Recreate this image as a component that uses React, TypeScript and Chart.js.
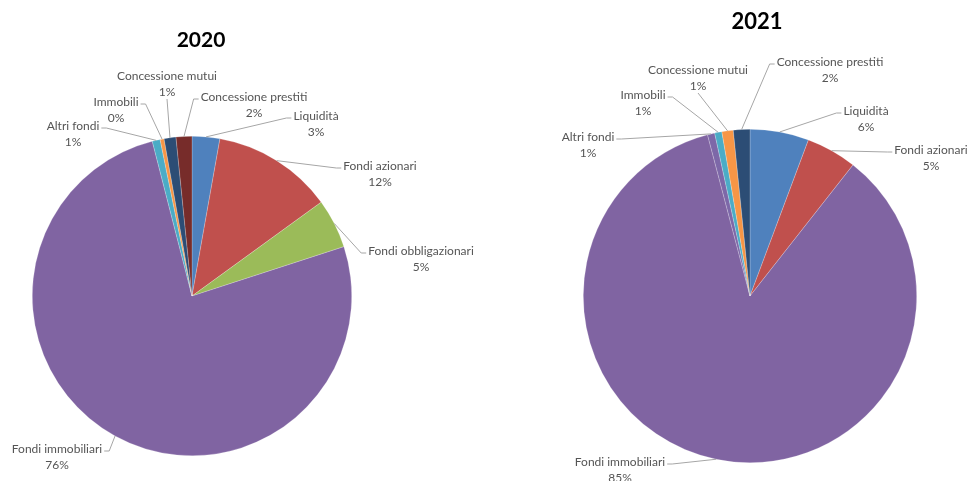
import React, { useEffect, useRef } from "react";
import { Chart, registerables } from "chart.js";

Chart.register(...registerables);

// ---- data ----
const title2020 = "2020";
const categories2020 = [
  "Liquidità",
  "Fondi azionari",
  "Fondi obbligazionari",
  "Fondi immobiliari",
  "Altri fondi",
  "Immobili",
  "Concessione mutui",
  "Concessione prestiti",
];
const values2020 = [2.8, 12.2, 5.0, 76.0, 0.8, 0.4, 1.2, 1.6];

const title2021 = "2021";
const categories2021 = [
  "Liquidità",
  "Fondi azionari",
  "Fondi immobiliari",
  "Altri fondi",
  "Immobili",
  "Concessione mutui",
  "Concessione prestiti",
];
const values2021 = [5.7, 4.9, 85.3, 0.7, 0.7, 1.1, 1.6];

// ---- styles ----
const colors2020 = ["#4F81BD", "#C0504D", "#9BBB59", "#8064A2", "#4BACC6", "#F79646", "#2C4D75", "#772C2A"];
const colors2021 = ["#4F81BD", "#C0504D", "#8064A2", "#7D68A8", "#4BACC6", "#F79646", "#2C4D75"];

// label block offsets from pie centre (layout only)
const labelOffsets2020: [number, number][] = [
  [124, -180],
  [188, -130],
  [229, -45],
  [-135, 153],
  [-119, -170],
  [-76, -194],
  [-25, -220],
  [62, -199],
];
const labelOffsets2021: [number, number][] = [
  [116, -185],
  [181, -146],
  [-130, 166],
  [-162, -159],
  [-107, -201],
  [-52, -226],
  [80, -234],
];

const FONT = "Lato, 'Open Sans', sans-serif";

function makePlugin(title: string, titlePos: [number, number], titleSize: number, offsets: [number, number][]) {
  return {
    id: "pieLabels",
    afterDraw(chart: any) {
      const ctx = chart.ctx as CanvasRenderingContext2D;
      const meta = chart.getDatasetMeta(0);
      const data = chart.data.datasets[0].data as number[];
      const total = data.reduce((a, b) => a + b, 0);
      ctx.save();
      ctx.fillStyle = "#000";
      ctx.textAlign = "center";
      ctx.textBaseline = "middle";
      ctx.font = `bold ${titleSize}px ${FONT}`;
      ctx.fillText(title, titlePos[0], titlePos[1]);

      ctx.font = `12px ${FONT}`;
      const lh = 16;
      meta.data.forEach((arc: any, i: number) => {
        const p = arc.getProps(["x", "y", "startAngle", "endAngle", "outerRadius"], true);
        const mid = (p.startAngle + p.endAngle) / 2;
        const ax = p.x + Math.cos(mid) * p.outerRadius;
        const ay = p.y + Math.sin(mid) * p.outerRadius;
        const line1 = String(chart.data.labels[i]);
        const line2 = Math.round((data[i] / total) * 100) + "%";
        const cx = p.x + offsets[i][0];
        const cy = p.y + offsets[i][1];
        const w = Math.max(ctx.measureText(line1).width, ctx.measureText(line2).width);
        const left = cx - w / 2 - 2;
        const right = cx + w / 2 + 2;
        const bottom = cy + lh + 7;
        const cands: { x: number; y: number; stub: number }[] = [
          { x: left, y: cy + 2, stub: -5 },
          { x: right, y: cy + 2, stub: 5 },
          { x: cx, y: bottom, stub: 0 },
        ];
        let best = cands[0];
        let bd = Infinity;
        for (const c of cands) {
          const d = Math.hypot(c.x - ax, c.y - ay);
          if (d < bd) {
            bd = d;
            best = c;
          }
        }
        ctx.strokeStyle = "#A6A6A6";
        ctx.lineWidth = 1;
        ctx.beginPath();
        ctx.moveTo(best.x, best.y);
        if (best.stub !== 0) {
          ctx.lineTo(best.x + best.stub, best.y);
        }
        ctx.lineTo(ax, ay);
        ctx.stroke();

        ctx.fillStyle = "#555555";
        ctx.fillText(line1, cx, cy);
        ctx.fillText(line2, cx, cy + lh);
      });
      ctx.restore();
    },
  };
}

function PieChart(props: {
  labels: string[];
  values: number[];
  colors: string[];
  title: string;
  titlePos: [number, number];
  titleSize: number;
  offsets: [number, number][];
  padding: { left: number; right: number; top: number; bottom: number };
  left: number;
}) {
  const ref = useRef<HTMLCanvasElement>(null);
  useEffect(() => {
    if (!ref.current) return;
    const chart = new Chart(ref.current, {
      type: "pie",
      data: {
        labels: props.labels,
        datasets: [
          {
            data: props.values,
            backgroundColor: props.colors,
            borderColor: "rgba(255,255,255,0.35)",
            borderWidth: 0.6,
          },
        ],
      },
      options: {
        responsive: false,
        animation: false,
        layout: { padding: props.padding },
        plugins: {
          legend: { display: false },
          tooltip: { enabled: false },
          title: { display: false },
        },
      },
      plugins: [makePlugin(props.title, props.titlePos, props.titleSize, props.offsets)],
    });
    return () => chart.destroy();
  }, []);
  return (
    <canvas
      ref={ref}
      width={484}
      height={481}
      style={{ position: "absolute", left: props.left, top: 0, width: 484, height: 481 }}
    />
  );
}

export default function App() {
  return (
    <div
      style={{
        position: "absolute",
        left: 0,
        top: 0,
        width: 968,
        height: 481,
        background: "#fff",
        overflow: "hidden",
      }}
    >
      <PieChart
        labels={categories2020}
        values={values2020}
        colors={colors2020}
        title={title2020}
        titlePos={[201, 40]}
        titleSize={21}
        offsets={labelOffsets2020}
        padding={{ left: 32, right: 132, top: 136, bottom: 25 }}
        left={0}
      />
      <PieChart
        labels={categories2021}
        values={values2021}
        colors={colors2021}
        title={title2021}
        titlePos={[273, 22]}
        titleSize={22}
        offsets={labelOffsets2021}
        padding={{ left: 99, right: 51, top: 129, bottom: 18 }}
        left={484}
      />
    </div>
  );
}
